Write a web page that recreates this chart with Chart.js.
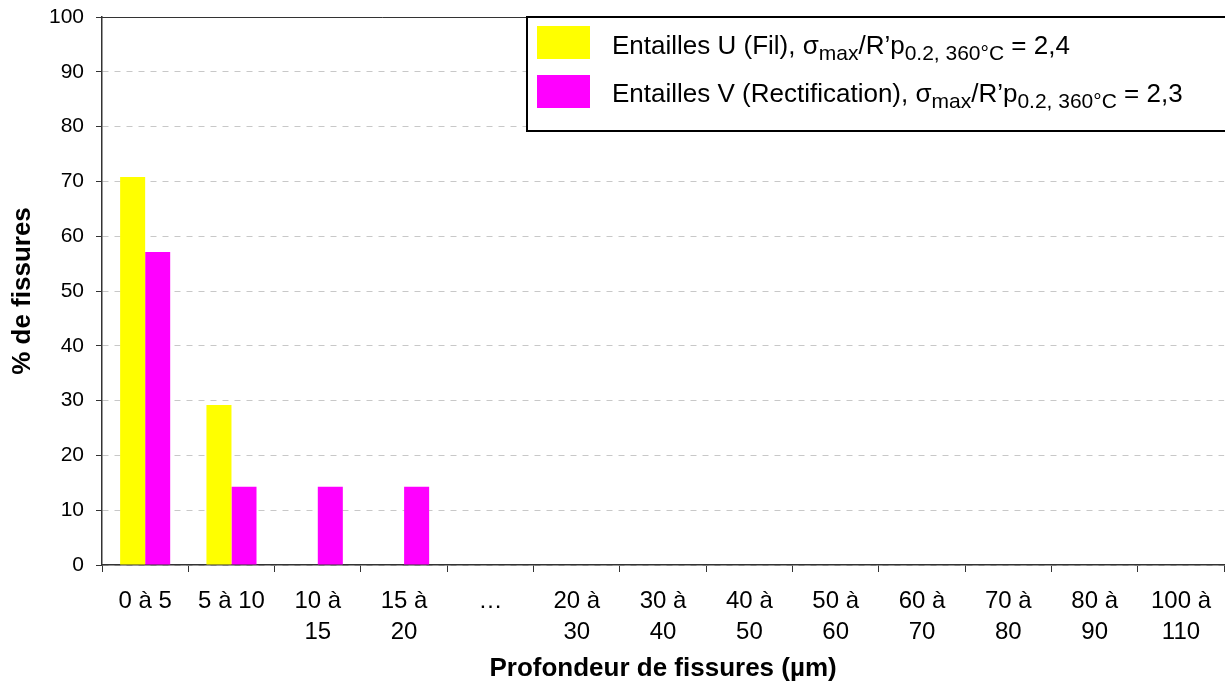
<!DOCTYPE html>
<html>
<head>
<meta charset="utf-8">
<script src="https://cdn.jsdelivr.net/npm/chart.js@4/dist/chart.umd.min.js"></script>
<style>
  html, body { margin: 0; padding: 0; background: #fff; }
  #wrap { width: 1225px; height: 684px; position: relative; }
</style>
</head>
<body>
<div id="wrap"><canvas id="chart" width="1225" height="684"></canvas></div>
<script>
var categories = [
	"0 à 5", "5 à 10", ["10 à", "15"], ["15 à", "20"], "…",
	["20 à", "30"], ["30 à", "40"], ["40 à", "50"], ["50 à", "60"],
	["60 à", "70"], ["70 à", "80"], ["80 à", "90"], ["100 à", "110"]
];
var entaillesU = [70.8, 29.2, 0, 0, 0, 0, 0, 0, 0, 0, 0, 0, 0];
var entaillesV = [57.1, 14.3, 14.3, 14.3, 0, 0, 0, 0, 0, 0, 0, 0, 0];
var yTicks = [0, 10, 20, 30, 40, 50, 60, 70, 80, 90, 100];

var FONT = "'Liberation Sans', Arial, sans-serif";

// legend with sub-scripts, drawn by hand
var legendItems = [
	{ color: "#FFFF00", parts: [["Entailles U (Fil), σ", 0], ["max", 1], ["/R’p", 0], ["0.2, 360°C", 1], [" = 2,4", 0]] },
	{ color: "#FF00FF", parts: [["Entailles V (Rectification), σ", 0], ["max", 1], ["/R’p", 0], ["0.2, 360°C", 1], [" = 2,3", 0]] }
];

var legendPlugin = {
	id: 'legendBox',
	afterDraw: function(chart){
		var ctx = chart.ctx;
		var area = chart.chartArea;
		ctx.save();
		// top border of plot
		ctx.strokeStyle = "#333";
		ctx.lineWidth = 1;
		ctx.beginPath();
		ctx.moveTo(area.left, area.top + 0.5);
		ctx.lineTo(area.right, area.top + 0.5);
		ctx.stroke();

		ctx.fillStyle = "#fff";
		ctx.fillRect(527, 17, 710, 114);
		ctx.strokeStyle = "#000";
		ctx.lineWidth = 2;
		ctx.strokeRect(527, 17, 710, 114);

		legendItems.forEach(function(item, i){
			var y0 = 26 + i * 49;
			ctx.fillStyle = item.color;
			ctx.fillRect(537, y0, 53, 33);
			var x = 612;
			var base = 54 + i * 48;
			ctx.fillStyle = "#000";
			ctx.textBaseline = "alphabetic";
			item.parts.forEach(function(p){
				if (p[1]) {
					ctx.font = "21px " + FONT;
					ctx.fillText(p[0], x, base + 6);
				} else {
					ctx.font = "26px " + FONT;
					ctx.fillText(p[0], x, base);
				}
				x += ctx.measureText(p[0]).width;
			});
		});
		ctx.restore();
	}
};

new Chart(document.getElementById('chart'), {
	type: 'bar',
	data: {
		labels: categories,
		datasets: [
			{ label: "Entailles U (Fil)", data: entaillesU, backgroundColor: "#FFFF00", borderWidth: 0 },
			{ label: "Entailles V (Rectification)", data: entaillesV, backgroundColor: "#FF00FF", borderWidth: 0 }
		]
	},
	options: {
		responsive: false,
		animation: false,
		layout: { padding: { top: 17, right: 0, left: 0, bottom: 0 } },
		plugins: {
			legend: { display: false },
			tooltip: { enabled: false }
		},
		datasets: { bar: { categoryPercentage: 0.58, barPercentage: 1.0 } },
		scales: {
			x: {
				grid: { offset: true, drawOnChartArea: false, tickLength: 7, color: "#333", tickColor: "#333" },
				border: { color: "#333", width: 1.5 },
				ticks: { color: "#000", font: { family: FONT, size: 24, lineHeight: 1.29 }, padding: 14, maxRotation: 0, autoSkip: false },
				title: { display: true, text: "Profondeur de fissures (µm)", color: "#000", font: { family: FONT, size: 26, weight: 'bold' }, padding: { top: 0, bottom: 0 } },
				afterFit: function(axis){ axis.height = 119; }
			},
			y: {
				min: 0, max: 100,
				afterBuildTicks: function(axis){ axis.ticks = yTicks.map(function(v){ return { value: v }; }); },
				grid: { color: "#c8c8c8", tickColor: "#333", tickLength: 6, tickBorderDash: [] },
				border: { color: "#333", width: 1.5, dash: [6, 6] },
				ticks: { color: "#000", font: { family: FONT, size: 21, lineHeight: 0.4 }, padding: 12 },
				title: { display: true, text: "% de fissures", color: "#000", font: { family: FONT, size: 26, weight: 'bold' }, padding: { top: 7, bottom: 0 } },
				afterFit: function(axis){ axis.width = 102; }
			}
		}
	},
	plugins: [legendPlugin]
});
</script>
</body>
</html>
